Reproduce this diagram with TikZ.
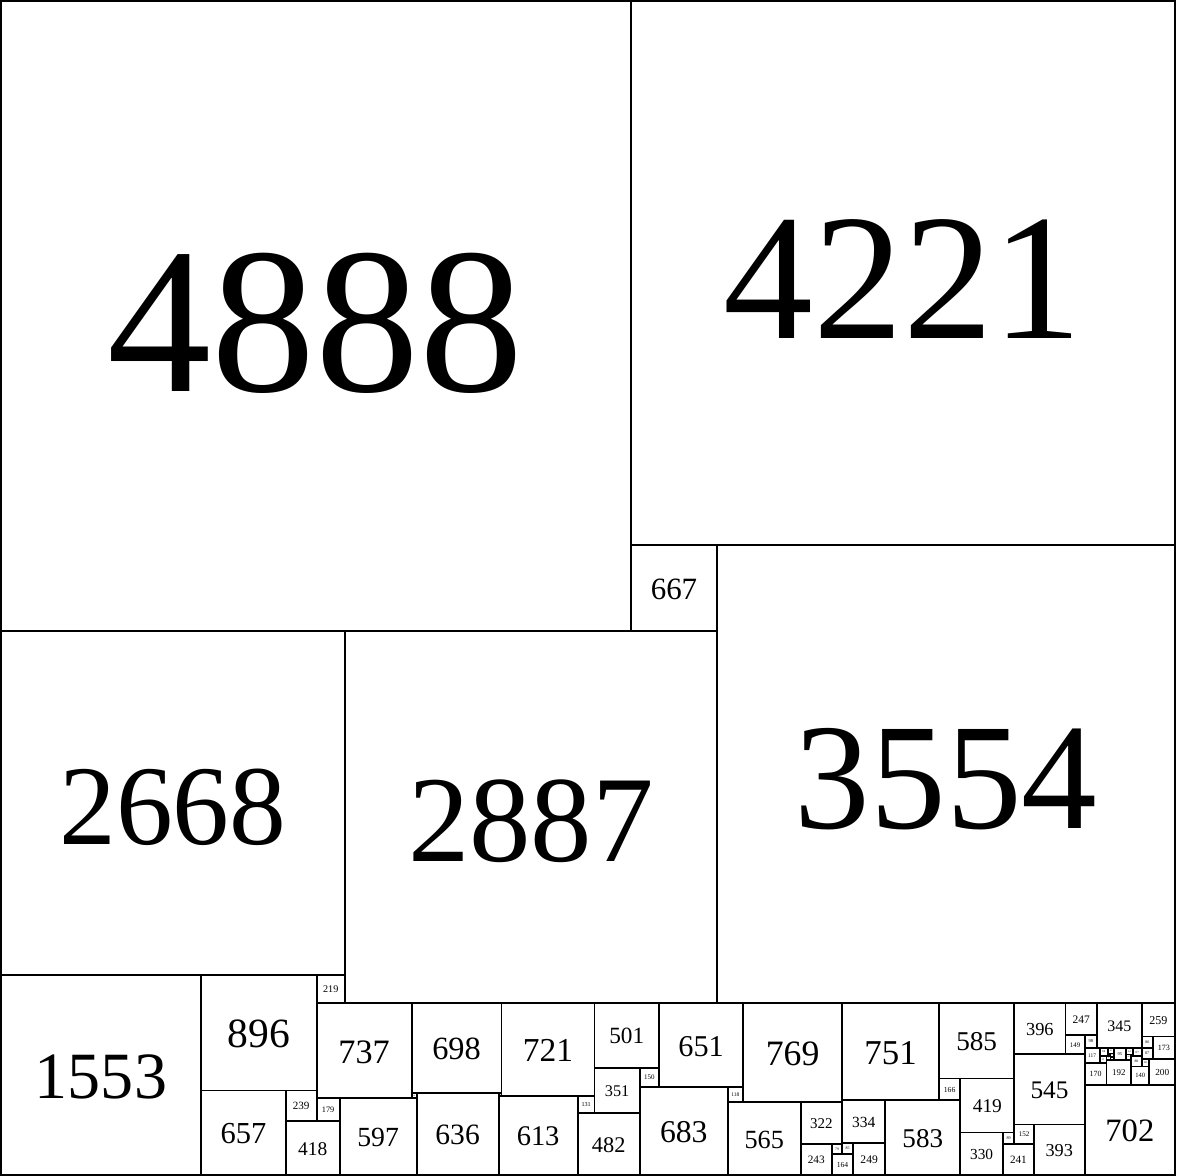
\documentclass[tikz,border=0pt]{standalone}
\usepackage{fontspec}
\setmainfont{Liberation Serif}
\tikzset{cell/.style={draw=black,line width=.8pt},
  celllabel/.style={inner sep=0pt}}

\begin{document}
\begin{tikzpicture}[x=0.002cm,y=-0.002cm]
\useasboundingbox (-7,-7) rectangle (9116,9116);
% squares: left, top, side
\foreach \x/\y/\s [count=\i] in {0/0/4888,4888/0/4221,4888/4221/667,5555/4221/3554,
  0/4888/2668,2668/4888/2887,0/7556/1553,1553/7556/896,2449/7556/219,1553/8452/657,
  2210/8452/239,2210/8691/418,2449/8512/179,2449/7775/737,2628/8512/597,3186/7775/698,
  3186/8473/39,3225/8473/636,3861/8473/23,3884/7775/721,3861/8496/613,4474/8496/131,
  4605/7775/501,4605/8276/351,4474/8627/482,4956/8276/150,5106/7775/651,4956/8426/683,
  5639/8426/118,5757/7775/769,5639/8544/565,6204/8544/322,6204/8866/243,6447/8866/79,
  6526/8860/85,6447/8945/164,6526/7775/751,6526/8526/334,6611/8860/249,6860/8526/583,
  7277/7775/585,7277/8360/166,7443/8360/419,7443/8779/330,7773/8779/89,7862/8716/152,
  7773/8868/241,8014/8716/393,7862/7775/396,7862/8171/545,8258/7775/247,8258/8022/149,
  8407/8022/98,8505/7775/345,8850/7775/259,8850/8034/86,8936/8034/173,8909/8207/200,
  8407/8120/117,8407/8237/170,8577/8215/192,8769/8267/140,8407/8407/702,8849/8120/87,
  8849/8207/60,8769/8187/80,8782/8120/67,8728/8120/54,8728/8174/41,8769/8174/13,
  8633/8120/95,8524/8120/64,8524/8184/53,8588/8120/45,8577/8184/31,8608/8165/25,
  8608/8190/25,8588/8165/10,8598/8165/10,8588/8175/9,8597/8175/9,8606/8175/2,
  8606/8177/2,8606/8179/2,8606/8181/2,8606/8183/1,8607/8183/1}{
  \pgfmathsetmacro\fs{max(ifthenelse(\s>999,0.33,0.36)*\s*0.0569,0.6)}
  \draw[cell] (\x,\y) rectangle ++(\s,\s);
  \node[celllabel,yshift=-0.035*\fs pt,font=\fontsize{\fs pt}{\fs pt}\selectfont]
    (c\i) at (\x+\s/2,\y+\s/2) {\s};
}
\end{tikzpicture}
\end{document}
